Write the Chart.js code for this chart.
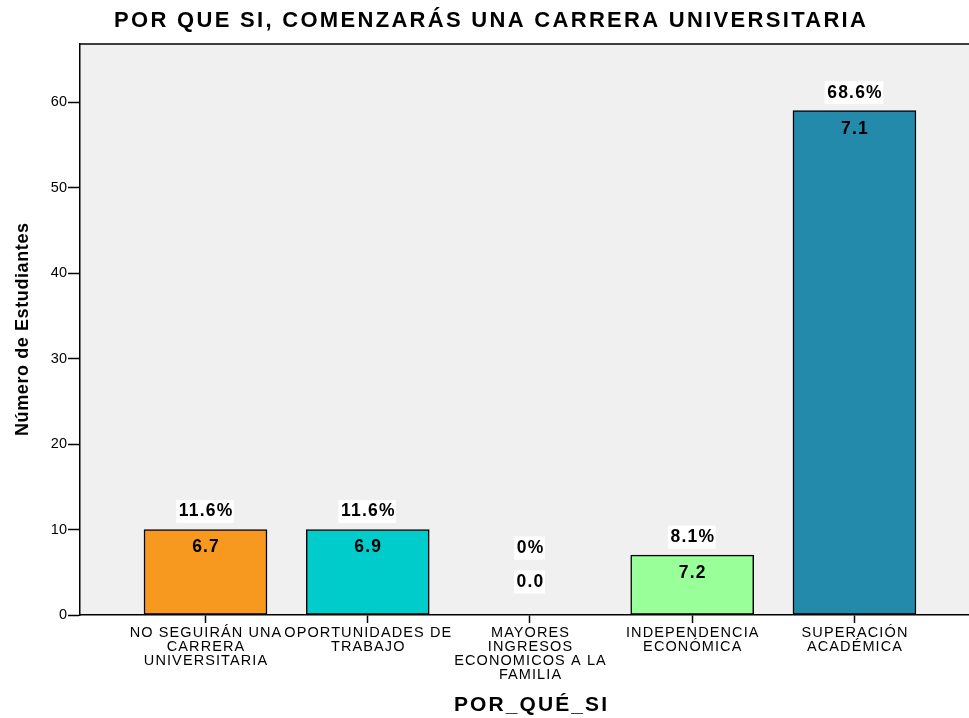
<!DOCTYPE html>
<html>
<head>
<meta charset="utf-8">
<script src="https://cdn.jsdelivr.net/npm/chart.js@4"></script>
<style>
  html, body { margin: 0; padding: 0; background: #fff; }
  #wrap { width: 969px; height: 718px; }
</style>
</head>
<body>
<div id="wrap"><canvas id="chart"></canvas></div>
<script>
// values
var categories = [
    ['NO SEGUIRÁN UNA', 'CARRERA', 'UNIVERSITARIA'],
    ['OPORTUNIDADES DE', 'TRABAJO'],
    ['MAYORES', 'INGRESOS', 'ECONOMICOS A LA', 'FAMILIA'],
    ['INDEPENDENCIA', 'ECONÓMICA'],
    ['SUPERACIÓN', 'ACADÉMICA']
];
var counts = [10, 10, 0, 7, 59];
var percents = ['11.6%', '11.6%', '0%', '8.1%', '68.6%'];
var means = ['6.7', '6.9', '0.0', '7.2', '7.1'];
var barColors = ['#f8991f', '#00cccc', '#cccccc', '#99ff99', '#248aab'];
var yTicks = [0, 10, 20, 30, 40, 50, 60];

var chartTitle = 'POR QUE SI, COMENZARÁS UNA CARRERA UNIVERSITARIA';
var xTitle = 'POR_QUÉ_SI';
var yTitle = 'Número de Estudiantes';

var fontFamily = "'Liberation Sans', Arial, Helvetica, sans-serif";

var points = counts.map(function(v, i) { return { x: i, y: v }; });

// text with the loose letter spacing of the original
function spacedText(ctx, text, x, y, font, spacing) {
    ctx.font = font;
    ctx.letterSpacing = spacing + 'px';
    var w = ctx.measureText(text).width - spacing;
    ctx.textAlign = 'left';
    ctx.fillText(text, x - w / 2, y);
    return w;
}

// grey plot background with a top border line
var plotBackground = {
    id: 'plotBackground',
    beforeDraw: function(chart) {
        var a = chart.chartArea, ctx = chart.ctx;
        ctx.save();
        ctx.fillStyle = '#f0f0f0';
        ctx.fillRect(a.left, a.top, a.right - a.left, a.bottom - a.top);
        ctx.strokeStyle = '#000';
        ctx.lineWidth = 1.5;
        ctx.beginPath();
        ctx.moveTo(a.left, a.top);
        ctx.lineTo(a.right, a.top);
        ctx.stroke();
        ctx.restore();
    }
};

// titles and category labels
var textLayer = {
    id: 'textLayer',
    afterDraw: function(chart) {
        var ctx = chart.ctx, a = chart.chartArea;
        var xs = chart.scales.x;
        ctx.save();
        ctx.fillStyle = '#000';
        ctx.textBaseline = 'middle';

        spacedText(ctx, chartTitle, 490, 21, 'bold 22px ' + fontFamily, 2.3);
        spacedText(ctx, xTitle, (a.left + a.right) / 2 + 6, 705, 'bold 21px ' + fontFamily, 2.1);

        categories.forEach(function(lines, i) {
            var cx = xs.getPixelForValue(i);
            lines.forEach(function(line, j) {
                spacedText(ctx, line, cx, 633 + j * 14, '14.5px ' + fontFamily, 1.1);
            });
        });

        ctx.save();
        ctx.translate(23, (a.top + a.bottom) / 2);
        ctx.rotate(-Math.PI / 2);
        spacedText(ctx, yTitle, 0, 0, 'bold 18px ' + fontFamily, 0.6);
        ctx.restore();

        ctx.letterSpacing = '0px';
        ctx.restore();
    }
};

// percentage above each bar, mean inside it
var barLabels = {
    id: 'barLabels',
    afterDatasetsDraw: function(chart) {
        var ctx = chart.ctx;
        var meta = chart.getDatasetMeta(0);
        var font = 'bold 17.5px ' + fontFamily;
        ctx.save();
        ctx.textBaseline = 'middle';
        meta.data.forEach(function(bar, i) {
            var pY, mY, boxMean = false;
            if (counts[i] > 0) {
                pY = bar.y - 18;
                mY = bar.y + 18;
            } else {
                pY = bar.base - 67;
                mY = bar.base - 33;
                boxMean = true;
            }
            ctx.font = font;
            ctx.letterSpacing = '1.2px';
            var w = ctx.measureText(percents[i]).width;
            ctx.fillStyle = '#fff';
            ctx.fillRect(bar.x - w / 2 - 2, pY - 11.5, w + 3, 23);
            if (boxMean) {
                var w2 = ctx.measureText(means[i]).width;
                ctx.fillRect(bar.x - w2 / 2 - 2, mY - 11.5, w2 + 3, 23);
            }
            ctx.fillStyle = '#000';
            spacedText(ctx, percents[i], bar.x, pY, font, 1.2);
            spacedText(ctx, means[i], bar.x, mY, font, 1.2);
        });
        ctx.letterSpacing = '0px';
        ctx.restore();
    }
};

var ctx = document.getElementById('chart').getContext('2d');
new Chart(ctx, {
    type: 'bar',
    data: {
        datasets: [{
            data: points,
            backgroundColor: barColors,
            borderColor: '#000',
            borderWidth: 1.5,
            borderSkipped: false,
            barThickness: 123
        }]
    },
    options: {
        responsive: true,
        maintainAspectRatio: false,
        animation: false,
        layout: { padding: { left: 0, right: 0, top: 44, bottom: 0 } },
        plugins: {
            legend: { display: false },
            tooltip: { enabled: false },
            title: { display: false }
        },
        scales: {
            x: {
                type: 'linear',
                offset: false,
                min: -0.7735,
                max: 4.706,
                afterBuildTicks: function(scale) {
                    scale.ticks = categories.map(function(c, i) { return { value: i }; });
                },
                afterFit: function(scale) { scale.height = 103; },
                grid: {
                    offset: false,
                    drawOnChartArea: false,
                    drawTicks: true,
                    tickLength: 8,
                    tickColor: '#000',
                    tickWidth: 1.5
                },
                border: { color: '#000', width: 1.5 },
                ticks: { display: false }
            },
            y: {
                min: 0,
                max: 66.8,
                afterBuildTicks: function(scale) {
                    scale.ticks = yTicks.map(function(v) { return { value: v }; });
                },
                afterFit: function(scale) { scale.width = 80; },
                grid: {
                    drawOnChartArea: false,
                    drawTicks: true,
                    tickLength: 12,
                    tickColor: '#000',
                    tickWidth: 1.5
                },
                border: { color: '#000', width: 1.5 },
                ticks: {
                    padding: 1,
                    color: '#000',
                    font: { family: fontFamily, size: 14.5 }
                }
            }
        }
    },
    plugins: [plotBackground, barLabels, textLayer]
});
</script>
</body>
</html>
